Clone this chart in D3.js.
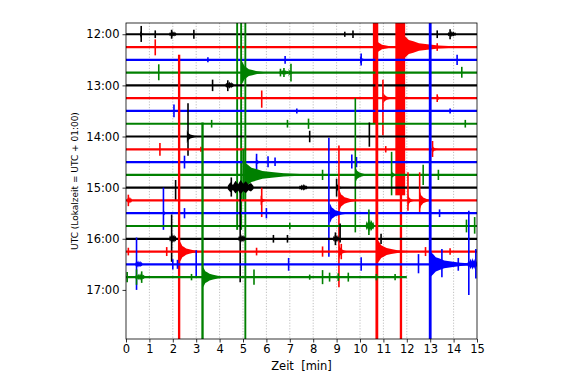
<!DOCTYPE html>
<html><head><meta charset="utf-8">
<script src="https://cdn.jsdelivr.net/npm/d3@7"></script>
<style>body{margin:0;background:#fff}svg{display:block}text{font-family:"DejaVu Sans",sans-serif}</style>
</head><body>
<svg id="c" width="580" height="377"></svg>
<script>
// --- data ---
const rowStartHours = [12,12.25,12.5,12.75,13,13.25,13.5,13.75,14,14.25,14.5,14.75,15,15.25,15.5,15.75,16,16.25,16.5,16.75];
const rowEndMin = [15,15,15,15,15,15,15,15,15,15,15,15,15,15,15,15,15,15,15,12.0];
const rowColors = ["#000000","#ff0000","#0000ff","#008000"];
const yTickValues = [12,13,14,15,16,17];
const yTickLabels = ["12:00","13:00","14:00","15:00","16:00","17:00"];
const xTickValues = [0,1,2,3,4,5,6,7,8,9,10,11,12,13,14,15];
// spikes: [row, minute, up (rows), down (rows), band width (min)]
const spikes = [
 [0,0.65,0.65,0.6,0],[0,1.25,0.3,0.3,0],[0,1.95,0.35,0.35,0],[0,2.9,0.35,0.35,0],[0,9.35,0.2,0.2,0],[0,9.7,0.3,0.3,0],[0,13.3,0.3,0.3,0],[0,13.85,0.4,0.4,0],
 [1,1.25,0.6,0.65,0],[1,10.65,5,6,0.2],[1,11.72,5,11.6,0.42],[1,11.75,5,30,0.1],[1,13.3,0.3,0.3,0],
 [2,3.5,0.2,0.2,0],[2,6.8,0.3,0.3,0],[2,10.05,0.5,0.45,0],[2,14.15,0.4,0.4,0],
 [3,1.4,0.65,0.6,0],[3,4.75,5,12.3,0.08],[3,4.92,5,12.3,0.08],[3,6.6,0.3,0.3,0],[3,6.75,0.35,0.35,0],[3,7.05,0.7,0.7,0],[3,14.35,0.45,0.4,0],
 [4,3.7,0.45,0.45,0],[4,4.35,0.4,0.45,0],
 [5,5.8,0.6,0.75,0],[5,10.98,1.45,2.9,0],[5,13.3,0.3,0.3,0],
 [6,2.05,0.5,0.5,0],[6,7.3,0.2,0.2,0],[6,13.85,0.2,0.2,0],
 [7,3.66,0.3,0.3,0],[7,6.9,0.3,0.3,0],[7,7.8,0.4,0.4,0],[7,14.5,0.3,0.3,0],
 [8,2.65,2.6,1.5,0],[8,7.85,0.45,0.45,0],[8,10.4,1.1,0.8,0],
 [9,1.45,0.5,0.5,0],[9,3.2,0.2,0.2,0],[9,11.1,0.25,0.25,0],[9,13.1,0.65,0.6,0],
 [10,2.5,0.5,0.5,0],[10,5.58,0.65,0.6,0],[10,6.07,0.45,0.4,0],[10,6.37,0.35,0.3,0],[10,9.65,0.6,0.5,0],[10,9.85,0.4,0.4,0],
 [11,5.1,14,14,0.08],[11,5.02,2,2,0.1],[11,8.4,0.4,0.4,0],[11,9.8,6,4.5,0],[11,11.35,1.8,1.6,0],[11,12.7,0.8,0.8,0],[11,13.35,0.4,0.4,0],
 [12,2.12,0.6,1.0,0],[12,4.5,0.8,0.7,0],[12,9.0,0.7,0.7,0],
 [13,0.1,0.45,0.45,0],[13,5.8,1.0,1.3,0],[13,9.1,4.3,6.8,0],[13,12.05,2.2,0.8,0],[13,12.55,2.2,0.9,0],
 [14,1.6,2.0,1.3,0],[14,2.5,0.4,0.4,0],[14,6.0,0.4,0.4,0],[14,8.67,5.9,3.4,0],[14,13.4,0.3,0.3,0],
 [15,7.0,0.25,0.25,0],[15,10.38,1.3,0.7,0],[15,14.55,0.5,0.5,0],[15,14.9,0.7,0.6,0],
 [16,1.95,1.9,1.8,0],[16,4.88,4,3.4,0],[16,6.3,0.3,0.3,0],[16,6.9,0.3,0.3,0],[16,8.95,0.5,0.5,0],[16,9.15,1.2,0.3,0],[16,10.9,0.4,0.4,0],
 [17,0.1,0.3,0.3,0],[17,1.74,0.35,0.35,0],[17,2.27,15.4,8,0.1],[17,5.58,0.3,0.3,0],[17,8.4,0.4,0.4,0],[17,9.2,0.6,0.6,0],[17,10.72,18,8,0.12],[17,12.8,0.35,0.35,0],[17,13.85,0.25,0.25,0],
 [18,0.45,2.1,2.0,0],[18,2.0,0.4,0.4,0],[18,2.2,0.35,0.35,0],[18,3.0,1.1,1.0,0],[18,6.95,0.5,0.5,0],[18,10.05,0.55,0.5,0],[18,12.5,0.8,0.7,0],[18,13.0,22,8,0.12],[18,13.5,1.2,1.0,0],[18,14.2,0.5,0.5,0],[18,14.65,4.2,2.4,0],[18,14.95,1.2,1.1,0],
 [19,0.05,0.4,0.4,0],[19,0.45,0.6,0.6,0],[19,0.67,0.45,0.45,0],[19,2.8,0.25,0.25,0],[19,3.27,12.1,6,0.1],[19,5.47,0.6,0.6,0],[19,7.85,0.2,0.2,0],[19,8.4,0.55,0.55,0],[19,8.7,0.35,0.35,0],[19,9.07,0.3,0.3,0],[19,9.5,0.35,0.35,0],[19,10.7,0.25,0.25,0],[19,11.5,0.25,0.25,0]
];
// codas: [row, start minute, duration (min), amplitude (rows), kind: c = decaying, b = burst]
const codas = [
 [0,0.6,0.2,0.3,"c"],[0,1.85,0.3,0.25,"b"],[0,13.75,0.35,0.25,"b"],
 [1,10.7,0.8,0.6,"c"],[1,11.8,2.4,1.0,"c"],
 [2,10.0,0.4,0.3,"c"],
 [3,4.95,1.0,0.9,"c"],[3,6.55,0.4,0.22,"b"],[3,6.95,0.3,0.3,"c"],
 [4,4.25,0.35,0.3,"b"],
 [5,11.0,0.5,0.4,"c"],[5,13.3,0.3,0.25,"c"],
 [8,2.6,0.5,0.5,"c"],
 [9,13.1,0.3,0.3,"c"],
 [10,5.55,0.3,0.35,"c"],
 [11,5.05,2.6,1.0,"c"],[11,9.8,0.6,0.6,"c"],[11,11.35,0.3,0.35,"c"],
 [12,4.35,1.1,0.6,"b"],[12,7.4,0.35,0.28,"b"],[12,9.0,0.3,0.4,"c"],
 [13,0.05,0.2,0.3,"b"],[13,5.75,0.3,0.4,"c"],[13,9.1,0.8,0.85,"c"],[13,12.05,0.3,0.5,"c"],[13,12.55,0.5,0.75,"c"],
 [14,1.6,0.2,0.3,"c"],[14,8.7,0.8,0.8,"c"],
 [15,10.25,0.35,0.55,"b"],
 [16,1.85,0.3,0.4,"b"],[16,4.8,0.3,0.35,"b"],[16,8.85,0.25,0.35,"b"],
 [17,2.3,0.9,0.8,"c"],[17,9.1,0.4,0.6,"c"],[17,10.75,1.3,0.9,"c"],
 [18,0.4,0.3,0.3,"b"],[18,13.0,2.0,1.0,"c"],[18,14.6,0.4,0.5,"b"],
 [19,0.4,0.4,0.3,"b"],[19,3.27,1.0,0.85,"c"]
];
// --- chart ---
const svg = d3.select("#c");
const L=126,R=477,T=23,B=339;
const x = d3.scaleLinear().domain([0,15]).range([L,R]);
const y = d3.scaleLinear().domain([11.78,17.96]).range([T,B]);
const rowH = 0.25; // hours between rows

svg.append("defs").append("clipPath").attr("id","clip")
  .append("rect").attr("x",L).attr("y",T).attr("width",R-L).attr("height",B-T);

// grid
svg.append("g").selectAll("line").data(xTickValues.slice(1,-1)).join("line")
  .attr("x1",d=>x(d)).attr("x2",d=>x(d)).attr("y1",T).attr("y2",B)
  .attr("stroke","#b0b0b0").attr("stroke-width",0.8).attr("stroke-dasharray","1.2,1.6");

const plot = svg.append("g").attr("clip-path","url(#clip)");
// marker outline profiles (fraction along duration, fraction of amplitude)
const profC = [[0,1],[0.06,0.8],[0.12,0.55],[0.2,0.45],[0.3,0.3],[0.45,0.22],[0.65,0.12],[1,0.04]];
const profB = [[0,0.25],[0.1,0.7],[0.2,0.35],[0.3,0.9],[0.4,0.45],[0.5,1],[0.6,0.5],[0.7,0.85],[0.8,0.4],[0.9,0.6],[1,0.2]];

rowStartHours.forEach((h,i)=>{
  const col = rowColors[i%4];
  const g = plot.append("g");
  g.append("line").attr("x1",x(0)).attr("x2",x(rowEndMin[i])).attr("y1",y(h)).attr("y2",y(h))
    .attr("stroke",col).attr("stroke-width",2.2);
  codas.filter(c=>c[0]===i).forEach(c=>{
    const prof = c[4]==="c"?profC:profB;
    const top = prof.map(([f,m])=>[x(c[1]+f*c[2]), y(h - m*c[3]*rowH)]);
    const bot = prof.slice().reverse().map(([f,m],k)=>[x(c[1]+f*c[2]), y(h + m*c[3]*rowH*(c[4]==="b"?0.85:1))]);
    g.append("path").attr("d",d3.line()(top.concat(bot))+"Z").attr("fill",col);
  });
  spikes.filter(s=>s[0]===i).forEach(s=>{
    if(s[4]>0){
      g.append("rect").attr("x",x(s[1]-s[4]/2)).attr("width",Math.max(1.5,x(s[4])-x(0)))
        .attr("y",y(h-s[2]*rowH)).attr("height",y(h+s[3]*rowH)-y(h-s[2]*rowH)).attr("fill",col);
    } else {
      g.append("line").attr("x1",x(s[1])).attr("x2",x(s[1]))
        .attr("y1",y(h-s[2]*rowH)).attr("y2",y(h+s[3]*rowH)).attr("stroke",col).attr("stroke-width",1.6);
    }
  });
});

// frame
svg.append("rect").attr("x",L).attr("y",T).attr("width",R-L).attr("height",B-T)
  .attr("fill","none").attr("stroke","#000").attr("stroke-width",0.8);

const xa = svg.append("g").attr("transform",`translate(0,${B})`)
  .call(d3.axisBottom(x).tickValues(xTickValues).tickFormat(d3.format("d")).tickSize(3.5).tickPadding(2));
const ya = svg.append("g").attr("transform",`translate(${L},0)`)
  .call(d3.axisLeft(y).tickValues(yTickValues).tickFormat((d,i)=>yTickLabels[i]).tickSize(3.5).tickPadding(3));
[xa,ya].forEach(a=>{a.select(".domain").remove();a.selectAll("text").attr("font-size","11.5px").attr("fill","#000").attr("font-family","DejaVu Sans");a.selectAll("line").attr("stroke","#000").attr("stroke-width",0.8);});

svg.append("text").attr("x",(L+R)/2).attr("y",370).attr("text-anchor","middle").attr("font-size","11.5px").text("Zeit  [min]").style("white-space","pre");
svg.append("text").attr("transform",`translate(78,${(T+B)/2}) rotate(-90)`).attr("text-anchor","middle").attr("font-size","9px").text("UTC (Lokalzeit = UTC + 01:00)");
</script>
</body></html>
